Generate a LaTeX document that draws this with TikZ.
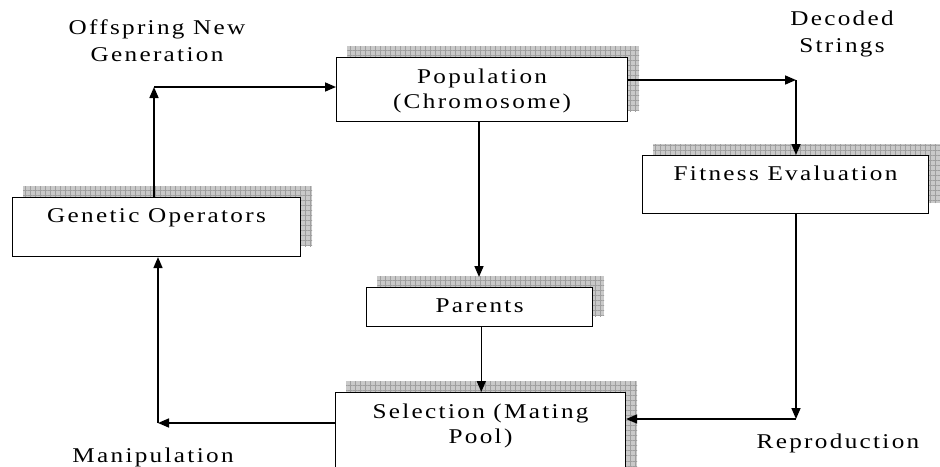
\documentclass[tikz,border=0pt]{standalone}
\usepackage{fontspec}
\setmainfont{Liberation Serif}[FakeStretch=1.2,LetterSpace=11]
\usetikzlibrary{arrows.meta,calc,patterns.meta,backgrounds}

\tikzset{
  box/.style={draw, line width=1.1pt, fill=white, inner sep=0pt, anchor=north west,
    font=\fontsize{21}{25}\selectfont, align=center},
  shade box/.style={fill=gray!42,
    postaction={pattern={Lines[distance=5pt,angle=0,line width=1pt]}, pattern color=gray!75},
    postaction={pattern={Lines[distance=5pt,angle=90,line width=1pt]}, pattern color=gray!75}},
  tag/.style={anchor=base, inner sep=0pt, font=\fontsize{21}{27}\selectfont},
  link/.style={line width=1.6pt, -{Triangle[length=11pt,width=9pt]}},
}

\begin{document}
\begin{tikzpicture}[x=1pt,y=-1pt]
  \clip (0,0) rectangle (940,466);

  % boxes (corner, width; text height/depth place the first baseline)
  \node[box, minimum width=291pt, text height=26pt, text depth=38pt] (pop) at (336,57)
    {\begin{tabular}[t]{@{}c@{}}Population\\(Chromosome)\end{tabular}};
  \node[box, minimum width=288pt, text height=25pt, text depth=34pt] (go) at (12,197)
    {Genetic Operators};
  \node[box, minimum width=286pt, text height=25pt, text depth=33pt] (fit) at (642,155)
    {Fitness Evaluation};
  \node[box, minimum width=226pt, text height=25pt, text depth=14pt] (par) at (366,287)
    {Parents};
  \node[box, minimum width=290pt, text height=26pt, text depth=100pt] (sel) at (335,392)
    {\begin{tabular}[t]{@{}c@{}}Selection (Mating\\Pool)\end{tabular}};

  % white page and checkered drop shadows behind the boxes
  \begin{scope}[on background layer]
    \fill[white] (0,0) rectangle (940,466);
    \clip (0,0) rectangle (940,466);
    \foreach \b in {pop,go,fit,par,sel}{
      \path[shade box] ($(\b.south west)+(11,-11)$) rectangle ($(\b.north east)+(11,-11)$);
    }
  \end{scope}

  % bends and free ends of the connectors
  \coordinate (upleft)    at (154,87);
  \coordinate (upright)   at (796,80);
  \coordinate (partop)    at (479,277);
  \coordinate (parsel)    at (481.3,0);
  \coordinate (downright) at (796,419);
  \coordinate (downleft)  at (158,423);

  % connectors
  \draw[link] (upleft |- go.north) -- (upleft);
  \draw[link] (upleft) -- (upleft -| pop.west);
  \draw[link] (upright -| pop.east) -- (upright);
  \draw[link] (upright) -- (upright |- fit.north);
  \draw[link] (partop |- pop.south) -- (partop);
  \draw[link] (parsel |- par.south) -- (parsel |- sel.north);
  \draw[link] (downright |- fit.south) -- (downright);
  \draw[link] (downright) -- (downright -| sel.east);
  \draw[link] (downleft -| sel.west) -- (downleft);
  \draw[link] (downleft) -- (downleft |- go.south);

  % labels
  \node[tag] (offspring) at (157,34)
    {\begin{tabular}[t]{@{}c@{}}Offspring New\\Generation\end{tabular}};
  \node[tag] (decoded) at (842,25)
    {\begin{tabular}[t]{@{}c@{}}Decoded\\Strings\end{tabular}};
  \node[tag] (reproduction) at (838,448) {Reproduction};
  \node[tag] (manipulation) at (153,462) {Manipulation};
\end{tikzpicture}
\end{document}
